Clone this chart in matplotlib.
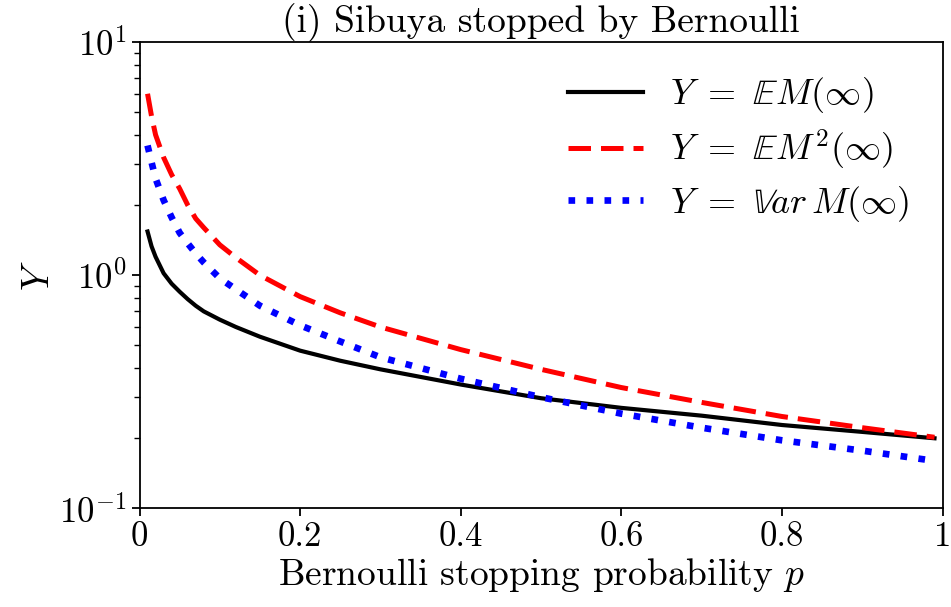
import matplotlib
matplotlib.use("Agg")
import matplotlib.pyplot as plt
from matplotlib.ticker import FixedLocator, FixedFormatter

plt.rcParams["mathtext.fontset"] = "cm"
plt.rcParams["font.family"] = "serif"
plt.rcParams["font.serif"] = ["cmr10"]
plt.rcParams["axes.formatter.use_mathtext"] = True
plt.rcParams["axes.unicode_minus"] = False

# Bernoulli stopping probability
p = [0.01, 0.015, 0.02, 0.03, 0.04, 0.05, 0.06, 0.07, 0.08, 0.1, 0.12, 0.15,
     0.2, 0.25, 0.3, 0.4, 0.5, 0.6, 0.7, 0.8, 0.9, 0.99]

# values
mean_m = [1.54, 1.33, 1.20, 1.02, 0.92, 0.85, 0.79, 0.74, 0.70, 0.645, 0.60,
          0.545, 0.475, 0.43, 0.395, 0.34, 0.297, 0.27, 0.25, 0.228, 0.213, 0.20]
mean_m2 = [6.0, 4.8, 4.0, 3.2, 2.7, 2.35, 2.0, 1.75, 1.6, 1.35, 1.19, 1.0,
           0.81, 0.69, 0.60, 0.48, 0.395, 0.33, 0.285, 0.248, 0.222, 0.202]
var_m = [3.6, 3.05, 2.6, 2.1, 1.77, 1.52, 1.37, 1.24, 1.135, 0.97, 0.87, 0.74,
         0.61, 0.52, 0.445, 0.36, 0.30, 0.255, 0.222, 0.196, 0.177, 0.16]

xticks = [0, 0.2, 0.4, 0.6, 0.8, 1]
xtick_labels = ["0", "0.2", "0.4", "0.6", "0.8", "1"]

fig = plt.figure(figsize=(9.51, 6.07), dpi=100)
ax = fig.add_axes([0.1467, 0.1623, 0.8444, 0.7685])

ax.plot(p, mean_m, color="black", lw=3, ls="-", label=r"$Y\ =\ \mathbb{E}M(\infty)$")
ax.plot(p, mean_m2, color="red", lw=3.6, ls=(0, (4.5, 2.0)),
        label=r"$Y\ =\ \mathbb{E}M^2(\infty)$")
ax.plot(p, var_m, color="blue", lw=4.8, ls=(0, (1, 1.7)),
        label=r"$Y\ =\ \mathbb{V}ar\,M(\infty)$")

ax.set_yscale("log")
ax.set_ylim(0.1, 10)
ax.set_xlim(0, 1)
ax.xaxis.set_major_locator(FixedLocator(xticks))
ax.xaxis.set_major_formatter(FixedFormatter(xtick_labels))
ax.tick_params(labelsize=25, width=1.3, length=6)
ax.tick_params(which="minor", width=1.0, length=4)
for s in ax.spines.values():
    s.set_linewidth(1.3)

ax.set_xlabel(r"Bernoulli stopping probability $p$", fontsize=27, labelpad=2)
ax.set_ylabel(r"$Y$", fontsize=27, labelpad=2)
ax.set_title("(i) Sibuya stopped by Bernoulli", fontsize=27, pad=4)

ax.legend(loc="upper right", frameon=False, fontsize=26, handlelength=2.1,
          handletextpad=0.75, labelspacing=0.34, borderaxespad=0.52)

fig.savefig("out.png", dpi=100)
